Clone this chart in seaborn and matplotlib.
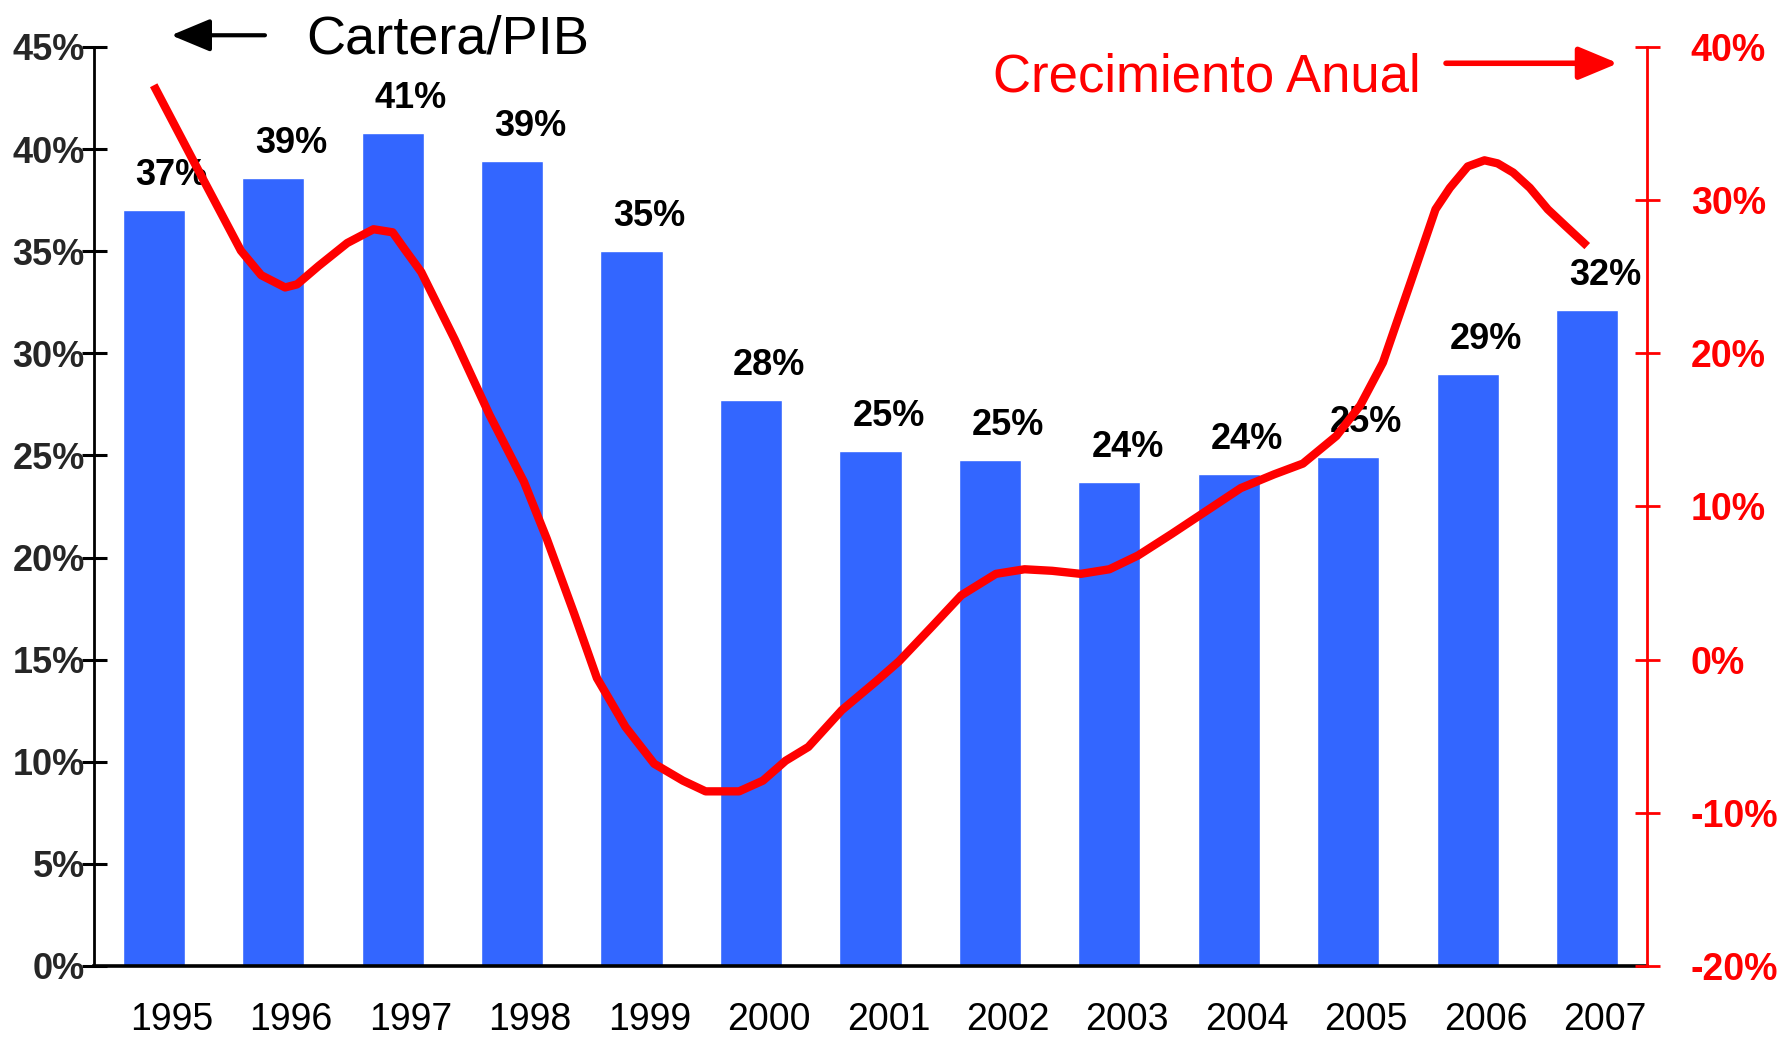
import matplotlib
matplotlib.use("Agg")
import matplotlib.pyplot as plt
import seaborn as sns

# data
years = [1995, 1996, 1997, 1998, 1999, 2000, 2001, 2002, 2003, 2004, 2005, 2006, 2007]
cartera_pib = [37.0, 38.6, 40.8, 39.4, 35.0, 27.7, 25.2, 24.8, 23.7, 24.1, 24.9, 29.0, 32.1]
bar_labels = ["37%", "39%", "41%", "39%", "35%", "28%", "25%", "25%", "24%", "24%", "25%", "29%", "32%"]

# annual growth (right axis), sampled along time
growth_x = [1995.00, 1995.35, 1995.73, 1995.90, 1996.10, 1996.20, 1996.38, 1996.62, 1996.84,
            1997.00, 1997.10, 1997.24, 1997.52, 1997.81, 1998.10, 1998.29, 1998.52, 1998.71,
            1998.95, 1999.19, 1999.43, 1999.62, 1999.90, 2000.10, 2000.29, 2000.48, 2000.76,
            2001.05, 2001.24, 2001.52, 2001.76, 2002.05, 2002.29, 2002.52, 2002.76, 2003.00,
            2003.24, 2003.52, 2003.81, 2004.10, 2004.38, 2004.62, 2004.90, 2005.10, 2005.29,
            2005.52, 2005.73, 2005.85, 2006.00, 2006.14, 2006.25, 2006.38, 2006.52, 2006.67,
            2006.82, 2007.00]
growth_y = [37.5, 32.3, 26.7, 25.1, 24.3, 24.5, 25.7, 27.2, 28.1,
            27.9, 26.8, 25.3, 20.9, 16.0, 11.6, 7.9, 3.0, -1.2,
            -4.4, -6.8, -7.9, -8.6, -8.6, -7.9, -6.6, -5.7, -3.3,
            -1.4, -0.1, 2.2, 4.2, 5.6, 5.9, 5.8, 5.6, 5.9,
            6.8, 8.2, 9.7, 11.2, 12.1, 12.8, 14.6, 16.6, 19.4,
            24.6, 29.4, 30.8, 32.2, 32.6, 32.4, 31.8, 30.8, 29.4,
            28.3, 27.0]

sns.set_theme(style="white")
plt.rcParams["font.family"] = ["Liberation Sans", "DejaVu Sans"]

fig = plt.figure(figsize=(17.83, 10.37), dpi=100)
ax = fig.add_axes([0.0527, 0.0685, 0.871, 0.8862])

sns.barplot(x=years, y=cartera_pib, native_scale=True, width=0.52,
            color="#3366FF", saturation=1, ax=ax)

for yr, v, lab in zip(years, cartera_pib, bar_labels):
    ax.annotate(lab, (yr, v), xytext=(13, 18), textcoords="offset points",
                ha="center", va="baseline", fontsize=26, fontweight="bold", color="black")

ax.set_xlim(1994.5, 2007.5)
ax.set_ylim(0, 45)
ax.set_yticks(range(0, 50, 5))
ax.set_yticklabels([f"{v}%" for v in range(0, 50, 5)])
ax.set_xticks([y + 0.15 for y in years])
ax.set_xticklabels([str(y) for y in years])
ax.set_xticks([y - 0.5 for y in years] + [2007.5], minor=True)
ax.tick_params(axis="x", which="major", length=0, pad=26, labelsize=27, colors="black")
ax.tick_params(axis="x", which="minor", direction="inout", length=18, width=2.2, color="black")
ax.tick_params(axis="y", direction="inout", length=18, width=2.2, color="black",
               labelsize=26, pad=-2.5, left=True)
for t in ax.get_yticklabels():
    t.set_fontweight("bold")
ax.set_xlabel("")
ax.set_ylabel("")

for s in ["top", "right"]:
    ax.spines[s].set_visible(False)
ax.spines["left"].set_color("black")
ax.spines["left"].set_linewidth(2)
ax.spines["bottom"].set_color("black")
ax.spines["bottom"].set_linewidth(2.6)

ax2 = ax.twinx()
sns.lineplot(x=growth_x, y=growth_y, color="#FF0000", linewidth=6, ax=ax2,
             solid_capstyle="butt", solid_joinstyle="round")
ax2.set_ylim(-20, 40)
ax2.set_yticks(range(-20, 50, 10))
ax2.set_yticklabels([f"{v}%" for v in range(-20, 50, 10)])
ax2.tick_params(axis="y", direction="inout", length=18, width=2, color="#FF0000",
                labelcolor="#FF0000", labelsize=27, pad=22.5, right=True)
for t in ax2.get_yticklabels():
    t.set_fontweight("bold")
for s in ["top", "left", "bottom"]:
    ax2.spines[s].set_visible(False)
ax2.spines["right"].set_color("#FF0000")
ax2.spines["right"].set_linewidth(2)
ax2.set_ylabel("")
ax2.set_xlim(1994.5, 2007.5)

# header texts with arrows
fig.text(0.172, 0.948, "Cartera/PIB", fontsize=39, color="black", ha="left", va="baseline")
fig.text(0.557, 0.912, "Crecimiento Anual", fontsize=38, color="#FF0000", ha="left", va="baseline")
fig.add_artist(matplotlib.patches.FancyArrowPatch(
    (0.1486, 0.966), (0.096, 0.966), transform=fig.transFigure,
    arrowstyle="-|>,head_length=1.2,head_width=0.5", mutation_scale=20,
    color="black", linewidth=3, shrinkA=0, shrinkB=0))
fig.add_artist(matplotlib.patches.FancyArrowPatch(
    (0.811, 0.939), (0.9075, 0.939), transform=fig.transFigure,
    arrowstyle="-|>,head_length=1.2,head_width=0.5", mutation_scale=20,
    color="#FF0000", linewidth=4, shrinkA=0, shrinkB=0))

fig.savefig("out.png", dpi=100)
